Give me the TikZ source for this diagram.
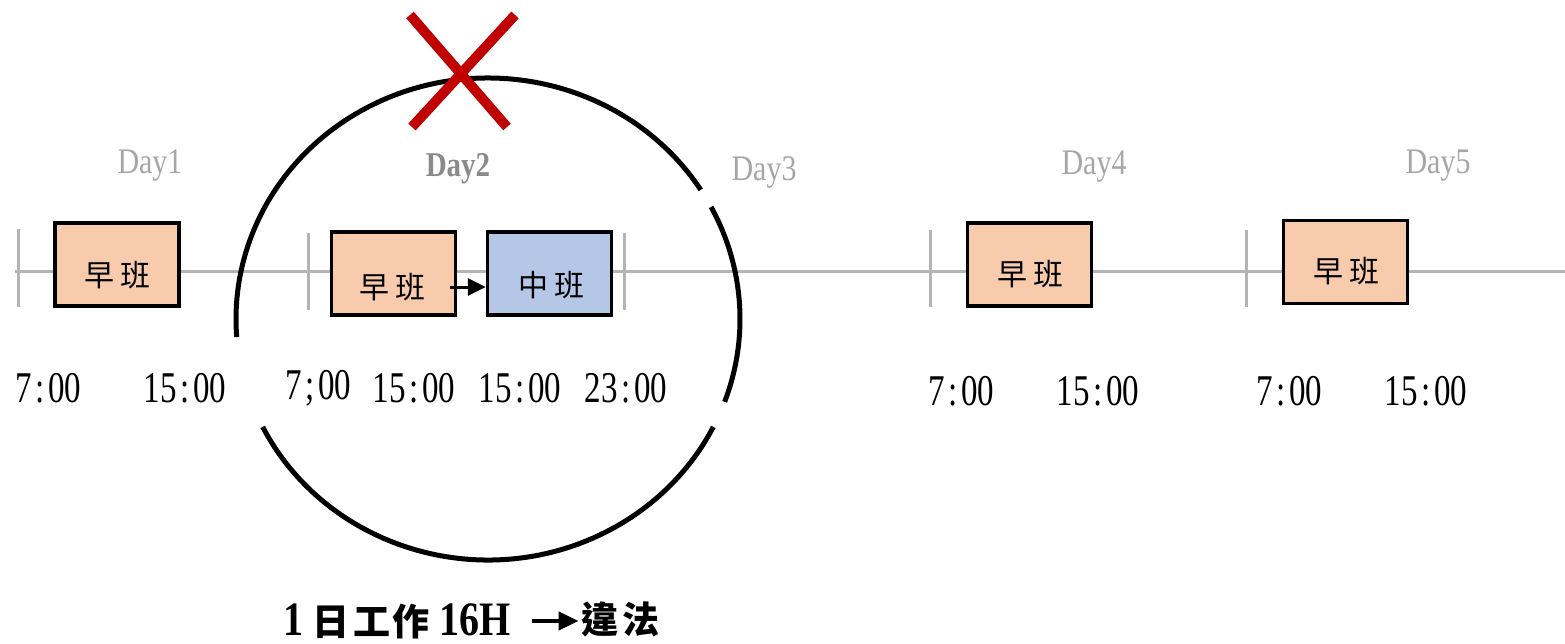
\documentclass[tikz,border=0pt]{standalone}
\usepackage{fontspec}
\setmainfont{Liberation Serif}
\newfontfamily\cjk{Noto Sans CJK TC}
\usetikzlibrary{arrows.meta,calc}
\definecolor{peach}{HTML}{F8CBAD}
\definecolor{lblue}{HTML}{B4C7E7}
\definecolor{xred}{HTML}{C00000}
\definecolor{axisgray}{HTML}{B4B4B4}
\definecolor{daygray}{HTML}{A6A6A6}
\definecolor{daydark}{HTML}{8A8A8A}
\newcommand\tallT[1]{\scalebox{1}[1.2]{#1}}
\newcommand\tm[3]{\scalebox{1}[1.33]{#1\makebox[0.5em]{#2}#3}}
\begin{document}
\begin{tikzpicture}[x=1pt,y=1pt,
  shiftbox/.style={draw=black,line width=3.5pt,minimum width=124pt,minimum height=83pt,inner sep=0pt},
  early/.style={shiftbox,fill=peach},
  mid/.style={shiftbox,fill=lblue},
  boxtext/.style={inner sep=0pt,font=\cjk\fontsize{30}{32}\selectfont},
  daylbl/.style={text=daygray,inner sep=0pt,font=\fontsize{30}{32}\selectfont},
  timelbl/.style={inner sep=0pt,font=\fontsize{33}{36}\selectfont},
  tickline/.style={draw=axisgray,line width=3pt},
  axisline/.style={draw=axisgray,line width=3pt},
  ring/.style={draw=black,line width=5pt},
  xmark/.style={draw=xred,line width=10pt},
  flow/.style={draw=black,line width=3pt,-{Triangle[length=18pt,width=17pt]}},
]
\useasboundingbox (0,0) rectangle (1565,-644);

% time axis
\coordinate (axL) at (15,-271);
\coordinate (axR) at (1565,-271);
\draw[axisline] (axL) -- (axR);
\foreach \x/\t/\b in {18/229/307, 308/233/310, 624/233/310, 930/230/307, 1246/230/307}
  \draw[tickline] (\x,-\t) -- (\x,-\b);

% shift boxes
\node[early] (b1) at (117,-264.5) {};
\node[early] (b2) at (393.5,-273.5) {};
\node[mid]   (b3) at (549.5,-273.5) {};
\node[early] (b4) at (1029.5,-264.5) {};
\node[early] (b5) at (1345.5,-262) {};
\node[boxtext] (t1) at (117,-275) {早\hspace{6pt}班};
\node[boxtext] (t2) at (392,-287) {早\hspace{6pt}班};
\node[boxtext] (t3) at (551,-285) {中\hspace{6pt}班};
\node[boxtext] (t4) at (1030,-274) {早\hspace{6pt}班};
\node[boxtext] (t5) at (1346,-271) {早\hspace{6pt}班};

\coordinate (a0) at (450,-287);
\draw[flow] (a0) -- (b3.west |- a0);

% day labels
\node[daylbl] (d1) at (150,-166) {\tallT{Day1}};
\node[daylbl,text=daydark,font=\bfseries\fontsize{29}{32}\selectfont] (d2) at (458,-169) {\tallT{Day2}};
\node[daylbl] (d3) at (764,-172) {\tallT{Day3}};
\node[daylbl] (d4) at (1094,-167) {\tallT{Day4}};
\node[daylbl] (d5) at (1438,-166) {\tallT{Day5}};

% times
\node[timelbl] (h1) at (48,-388) {\tm{7}{:}{00}};
\node[timelbl] (h2) at (185,-388) {\tm{15}{:}{00}};
\node[timelbl] (h3) at (318,-388) {\tm{7}{;}{00}};
\node[timelbl] (h4) at (414,-388) {\tm{15}{:}{00}};
\node[timelbl] (h5) at (520,-388) {\tm{15}{:}{00}};
\node[timelbl] (h6) at (626,-388) {\tm{23}{:}{00}};
\node[timelbl] (h7) at (961,-391) {\tm{7}{:}{00}};
\node[timelbl] (h8) at (1098,-391) {\tm{15}{:}{00}};
\node[timelbl] (h9) at (1289,-391) {\tm{7}{:}{00}};
\node[timelbl] (h10) at (1426,-391) {\tm{15}{:}{00}};

% circle with gaps
\coordinate (c) at (488,-319);
\draw[ring] ($(c)+(32.4:252 and 241)$) arc[start angle=32.4,end angle=184.3,x radius=252,y radius=241];
\draw[ring] ($(c)+(206.6:252 and 241)$) arc[start angle=206.6,end angle=333.4,x radius=252,y radius=241];
\draw[ring] ($(c)+(-20.1:252 and 241)$) arc[start angle=-20.1,end angle=27.7,x radius=252,y radius=241];

% red cross
\coordinate (x1) at (410,-15);
\coordinate (x2) at (507,-127);
\coordinate (x3) at (515,-15);
\coordinate (x4) at (412,-127);
\draw[xmark] (x1) -- (x2);
\draw[xmark] (x3) -- (x4);

% bottom caption
\node[anchor=base west,inner sep=0pt,font=\bfseries\fontsize{40}{44}\selectfont] (v1) at (283,-635)
  {\tallT{1}\hspace{9pt}{\cjk\bfseries\fontsize{37}{40}\selectfont 日\hspace{4pt}工\hspace{2pt}作}\hspace{10pt}\tallT{16H}};
\node[anchor=base east,inner sep=0pt,font=\cjk\bfseries\fontsize{37}{40}\selectfont] (v2) at (660,-633) {違\hspace{4pt}法};
\coordinate (ar) at (532,-621);
\draw[draw=black,line width=4pt,-{Triangle[length=20pt,width=18pt]}] (ar) -- ([xshift=-3pt]ar -| v2.west);
\end{tikzpicture}
\end{document}
